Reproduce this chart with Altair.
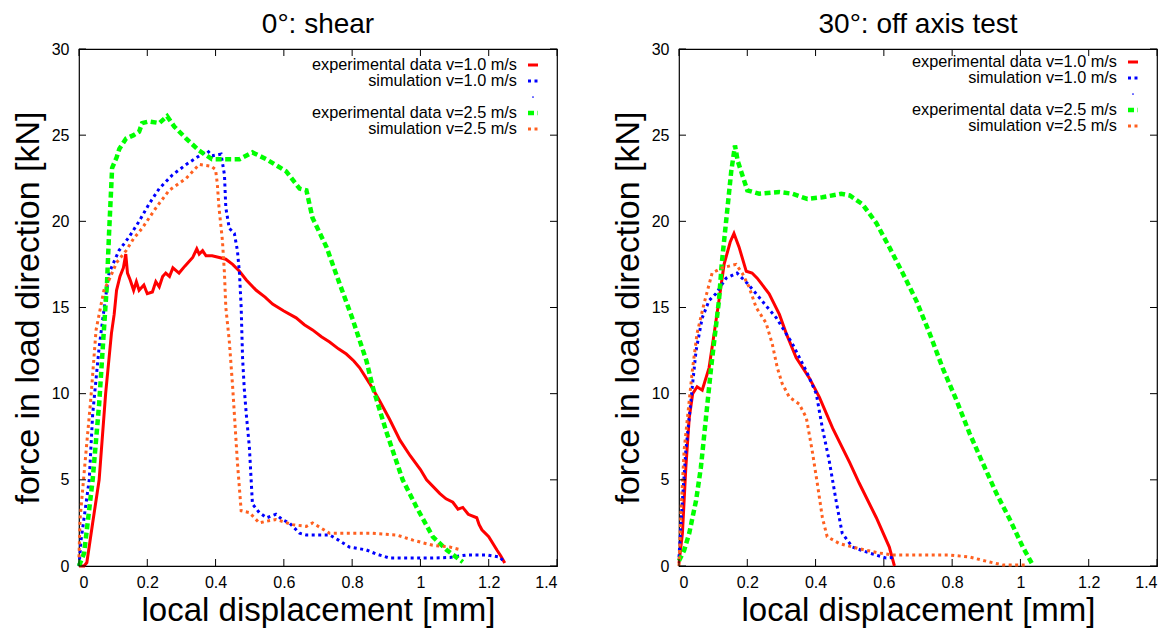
import altair as alt
import pandas as pd

FONT = "Liberation Sans"
W, H = 478, 517

panel_titles = ["0°: shear", "30°: off axis test"]
x_title = "local displacement [mm]"
y_title = "force in load direction [kN]"
x_ticks = [0, 0.2, 0.4, 0.6, 0.8, 1.0, 1.2, 1.4]
y_ticks = [0, 5, 10, 15, 20, 25, 30]

series_labels = ["experimental data v=1.0 m/s", "simulation v=1.0 m/s",
                 "experimental data v=2.5 m/s", "simulation v=2.5 m/s"]
series_colors = ["#ff0000", "#0000ff", "#00ff00", "#ff6020"]
legend_rows = [0, 1, 3, 4]

# ---- panel 1: 0 deg shear ----
shear_exp10_x = [0, 0.015, 0.023, 0.04, 0.059, 0.078, 0.095, 0.103, 0.11, 0.12, 0.13, 0.137, 0.142, 0.15,
                 0.16, 0.168, 0.176, 0.19, 0.2, 0.215, 0.225, 0.235, 0.245, 0.254, 0.265, 0.275, 0.293,
                 0.31, 0.333, 0.345, 0.352, 0.362, 0.372, 0.39, 0.411, 0.43, 0.45, 0.47, 0.49, 0.519,
                 0.545, 0.567, 0.6, 0.636, 0.66, 0.684, 0.71, 0.734, 0.76, 0.783, 0.805, 0.822, 0.851,
                 0.88, 0.91, 0.94, 0.97, 1.0, 1.018, 1.057, 1.075, 1.095, 1.11, 1.124, 1.14, 1.165,
                 1.172, 1.18, 1.2, 1.224, 1.235, 1.247]
shear_exp10_y = [0, 0, 0.2, 2.5, 5.0, 10.0, 13.5, 14.6, 16.0, 16.8, 17.3, 18.1, 17.0, 16.6,
                 16.0, 16.5, 16.0, 16.3, 15.8, 15.9, 16.5, 16.2, 16.8, 17.0, 16.8, 17.3, 17.0,
                 17.4, 17.9, 18.4, 18.1, 18.3, 18.0, 18.0, 17.9, 17.8, 17.5, 17.1, 16.6, 16.0,
                 15.6, 15.2, 14.8, 14.4, 14.0, 13.7, 13.3, 13.0, 12.6, 12.3, 11.9, 11.5, 10.6,
                 9.6, 8.5, 7.3, 6.4, 5.6, 5.0, 4.2, 3.9, 3.7, 3.3, 3.4, 3.0, 2.8,
                 2.4, 2.1, 1.7, 0.93, 0.6, 0.17]

shear_sim10_x = [0, 0.006, 0.03, 0.04, 0.059, 0.078, 0.088, 0.117, 0.147, 0.176, 0.205, 0.235, 0.274,
                 0.314, 0.352, 0.376, 0.39, 0.416, 0.426, 0.43, 0.44, 0.455, 0.464, 0.47, 0.475, 0.479,
                 0.484, 0.49, 0.499, 0.508, 0.528, 0.55, 0.577, 0.595, 0.616, 0.646, 0.666, 0.734,
                 0.76, 0.792, 0.842, 0.87, 0.91, 0.989, 1.036, 1.086, 1.136, 1.195, 1.233, 1.247]
shear_sim10_y = [0, 1.5, 5.0, 8.8, 12.7, 15.6, 17.0, 18.3, 19.1, 20.0, 21.0, 21.9, 22.7,
                 23.3, 23.8, 24.1, 23.8, 23.9, 22.7, 20.8, 19.6, 19.3, 18.3, 17.0, 15.0, 12.1,
                 10.3, 8.8, 6.9, 3.6, 3.1, 2.8, 3.0, 2.7, 2.5, 1.9, 1.8, 1.8,
                 1.5, 1.1, 0.93, 0.7, 0.46, 0.46, 0.46, 0.5, 0.64, 0.64, 0.52, 0.17]

shear_exp25_x = [0, 0.015, 0.04, 0.059, 0.073, 0.082, 0.088, 0.097, 0.11, 0.118, 0.138, 0.16, 0.176,
                 0.185, 0.205, 0.235, 0.258, 0.279, 0.314, 0.352, 0.39, 0.43, 0.47, 0.508, 0.549,
                 0.607, 0.646, 0.666, 0.684, 0.725, 0.763, 0.8, 0.842, 0.86, 0.9, 0.948, 0.989,
                 1.036, 1.077, 1.124]
shear_exp25_y = [0, 0.75, 5.0, 9.4, 13.7, 16.4, 19.3, 23.1, 23.7, 24.2, 24.8, 25.0, 25.2,
                 25.7, 25.8, 25.7, 26.1, 25.5, 24.8, 24.1, 23.6, 23.6, 23.6, 24.0, 23.6,
                 22.9, 21.9, 21.8, 20.2, 18.5, 16.4, 14.4, 11.9, 10.4, 7.8, 5.0, 3.4,
                 1.7, 0.93, 0.23]

shear_sim25_x = [0, 0.003, 0.015, 0.035, 0.05, 0.073, 0.088, 0.11, 0.138, 0.16, 0.185, 0.226, 0.264,
                 0.314, 0.352, 0.387, 0.4, 0.405, 0.41, 0.42, 0.426, 0.43, 0.44, 0.45, 0.464, 0.475,
                 0.499, 0.528, 0.55, 0.577, 0.626, 0.666, 0.684, 0.734, 0.792, 0.86, 0.93, 0.978,
                 1.036, 1.086, 1.12]
shear_sim25_y = [0.5, 2.7, 5.4, 9.8, 13.7, 16.0, 16.6, 17.6, 18.3, 19.0, 19.6, 20.8, 21.8,
                 22.5, 23.3, 23.2, 23.0, 22.2, 20.8, 18.9, 17.0, 15.0, 13.1, 10.4, 6.0, 3.2,
                 3.1, 2.5, 2.6, 2.7, 2.4, 2.3, 2.5, 1.9, 1.9, 1.9, 1.8, 1.5,
                 1.2, 1.1, 0.93]

# ---- panel 2: 30 deg off axis ----
off_exp10_x = [0, 0.01, 0.02, 0.03, 0.04, 0.053, 0.068, 0.088, 0.103, 0.117, 0.132, 0.15, 0.161,
               0.176, 0.197, 0.214, 0.229, 0.264, 0.294, 0.314, 0.343, 0.382, 0.411, 0.45, 0.5,
               0.528, 0.578, 0.616, 0.631]
off_exp10_y = [0.17, 1.9, 5.7, 8.6, 10.0, 10.4, 10.2, 11.5, 13.5, 15.4, 17.5, 18.8, 19.3,
               18.5, 17.1, 17.0, 16.7, 15.8, 14.6, 13.5, 12.1, 10.9, 9.8, 8.0, 6.0,
               4.8, 2.8, 1.1, 0]

off_sim10_x = [0, 0.01, 0.02, 0.035, 0.04, 0.05, 0.068, 0.088, 0.108, 0.138, 0.17, 0.2, 0.226,
               0.255, 0.285, 0.332, 0.373, 0.402, 0.42, 0.44, 0.46, 0.478, 0.508, 0.558, 0.607, 0.63]
off_sim10_y = [0.5, 3.8, 6.7, 9.6, 10.6, 12.5, 14.4, 15.4, 15.8, 16.7, 17.0, 16.4, 15.8,
               15.1, 14.4, 12.9, 11.3, 10.0, 8.0, 6.1, 3.8, 1.9, 1.1, 0.75, 0.46, 0.5]

off_exp25_x = [0, 0.015, 0.03, 0.05, 0.064, 0.079, 0.094, 0.117, 0.125, 0.138, 0.153, 0.164, 0.172,
               0.182, 0.2, 0.235, 0.294, 0.332, 0.376, 0.42, 0.475, 0.5, 0.537, 0.578, 0.616,
               0.655, 0.695, 0.734, 0.772, 0.813, 0.851, 0.889, 0.93, 0.969, 1.007, 1.033]
off_exp25_y = [0.3, 0.9, 1.9, 3.8, 5.7, 8.6, 11.5, 15.4, 17.5, 20.0, 22.9, 24.4, 23.5,
               22.9, 21.8, 21.6, 21.7, 21.6, 21.3, 21.4, 21.6, 21.5, 21.0, 19.9, 18.5,
               17.0, 15.4, 13.5, 11.5, 9.6, 7.7, 6.0, 4.2, 2.7, 1.1, 0.17]

off_sim25_x = [0, 0.005, 0.015, 0.03, 0.04, 0.053, 0.073, 0.097, 0.126, 0.167, 0.185, 0.205, 0.226,
               0.255, 0.273, 0.288, 0.302, 0.323, 0.352, 0.373, 0.39, 0.405, 0.42, 0.434, 0.47,
               0.528, 0.587, 0.625, 0.695, 0.792, 0.851, 0.91, 0.948, 1.018]
off_sim25_y = [0, 2.8, 6.7, 9.6, 11.5, 13.5, 15.2, 17.0, 17.3, 17.5, 17.0, 16.2, 15.0,
               14.1, 12.9, 11.5, 10.6, 9.8, 9.4, 8.6, 6.7, 4.8, 2.8, 1.7, 1.3,
               1.0, 0.75, 0.64, 0.64, 0.64, 0.52, 0.23, 0.06, 0.06]

panels = [
    [(shear_exp10_x, shear_exp10_y), (shear_sim10_x, shear_sim10_y),
     (shear_exp25_x, shear_exp25_y), (shear_sim25_x, shear_sim25_y)],
    [(off_exp10_x, off_exp10_y), (off_sim10_x, off_sim10_y),
     (off_exp25_x, off_exp25_y), (off_sim25_x, off_sim25_y)],
]

# line styles (visual only)
styles = [
    dict(strokeWidth=3),
    dict(strokeWidth=3, strokeDash=[3, 3.5]),
    dict(strokeWidth=4.5, strokeDash=[6, 3.5]),
    dict(strokeWidth=3, strokeDash=[3, 3.5]),
]
legend_top = [16, 13]

xscale = alt.Scale(domain=[0, 1.4], nice=False)
yscale = alt.Scale(domain=[0, 30], nice=False)
LABEL_EXPR = "format(datum.value, '~g')"


def panel(idx):
    layers = []
    for s, (xs, ys) in enumerate(panels[idx]):
        df = pd.DataFrame({"x": xs, "y": ys, "i": range(len(xs))})
        enc = dict(
            x=alt.X("x:Q", scale=xscale,
                    axis=alt.Axis(values=x_ticks, labelExpr=LABEL_EXPR, title=x_title,
                                  titlePadding=4, titleFontSize=33)),
            y=alt.Y("y:Q", scale=yscale,
                    axis=alt.Axis(values=y_ticks, labelExpr=LABEL_EXPR, title=y_title,
                                  titlePadding=6, labelPadding=10)),
            order="i:Q",
        )
        layers.append(alt.Chart(df).mark_line(color=series_colors[s], **styles[s]).encode(**enc))

    # inward tick marks on all four sides
    xt = pd.DataFrame({"v": x_ticks})
    yt = pd.DataFrame({"v": y_ticks})
    tick = dict(color="black", strokeWidth=1)
    layers.append(alt.Chart(xt).mark_rule(**tick).encode(
        x=alt.X("v:Q", scale=xscale), y=alt.value(H), y2=alt.value(H - 7)))
    layers.append(alt.Chart(xt).mark_rule(**tick).encode(
        x=alt.X("v:Q", scale=xscale), y=alt.value(0), y2=alt.value(7)))
    layers.append(alt.Chart(yt).mark_rule(**tick).encode(
        y=alt.Y("v:Q", scale=yscale), x=alt.value(0), x2=alt.value(7)))
    layers.append(alt.Chart(yt).mark_rule(**tick).encode(
        y=alt.Y("v:Q", scale=yscale), x=alt.value(W), x2=alt.value(W - 7)))

    # legend
    ycalc = f"{legend_top[idx]} + 16 * datum.row"
    leg = pd.DataFrame({"label": series_labels, "row": legend_rows})
    layers.append(alt.Chart(leg).mark_text(
        align="right", baseline="middle", font=FONT, fontSize=16.3, color="black"
    ).transform_calculate(py=ycalc).encode(
        x=alt.value(W - 40), y=alt.Y("py:Q", scale=None), text="label:N"))
    for s in range(4):
        one = pd.DataFrame({"row": [legend_rows[s]]})
        layers.append(alt.Chart(one).mark_rule(color=series_colors[s], **styles[s])
                      .transform_calculate(py=ycalc)
                      .encode(x=alt.value(W - 29), x2=alt.value(W - 19),
                              y=alt.Y("py:Q", scale=None)))
    dot = pd.DataFrame({"row": [2]})
    layers.append(alt.Chart(dot).mark_point(filled=True, size=3, color="#0000ff", opacity=1)
                  .transform_calculate(py=ycalc)
                  .encode(x=alt.value(W - 24), y=alt.Y("py:Q", scale=None)))

    return alt.layer(*layers).properties(
        width=W, height=H,
        title=alt.TitleParams(panel_titles[idx], fontSize=28, font=FONT, fontWeight="normal",
                              offset=2, anchor="middle", color="black"),
    )


chart = alt.hconcat(panel(0), panel(1), spacing=51).properties(
    padding={"left": 2, "top": 2, "right": 0, "bottom": 0}
).configure_view(stroke="black", strokeWidth=1.2).configure_axis(
    grid=False, ticks=False, domain=False, labelFont=FONT, titleFont=FONT,
    labelFontSize=16, titleFontSize=34, labelColor="black", titleColor="black",
    titleFontWeight="normal", labelPadding=8,
)

chart.save("out.html", embed_options={"renderer": "svg", "actions": False})
